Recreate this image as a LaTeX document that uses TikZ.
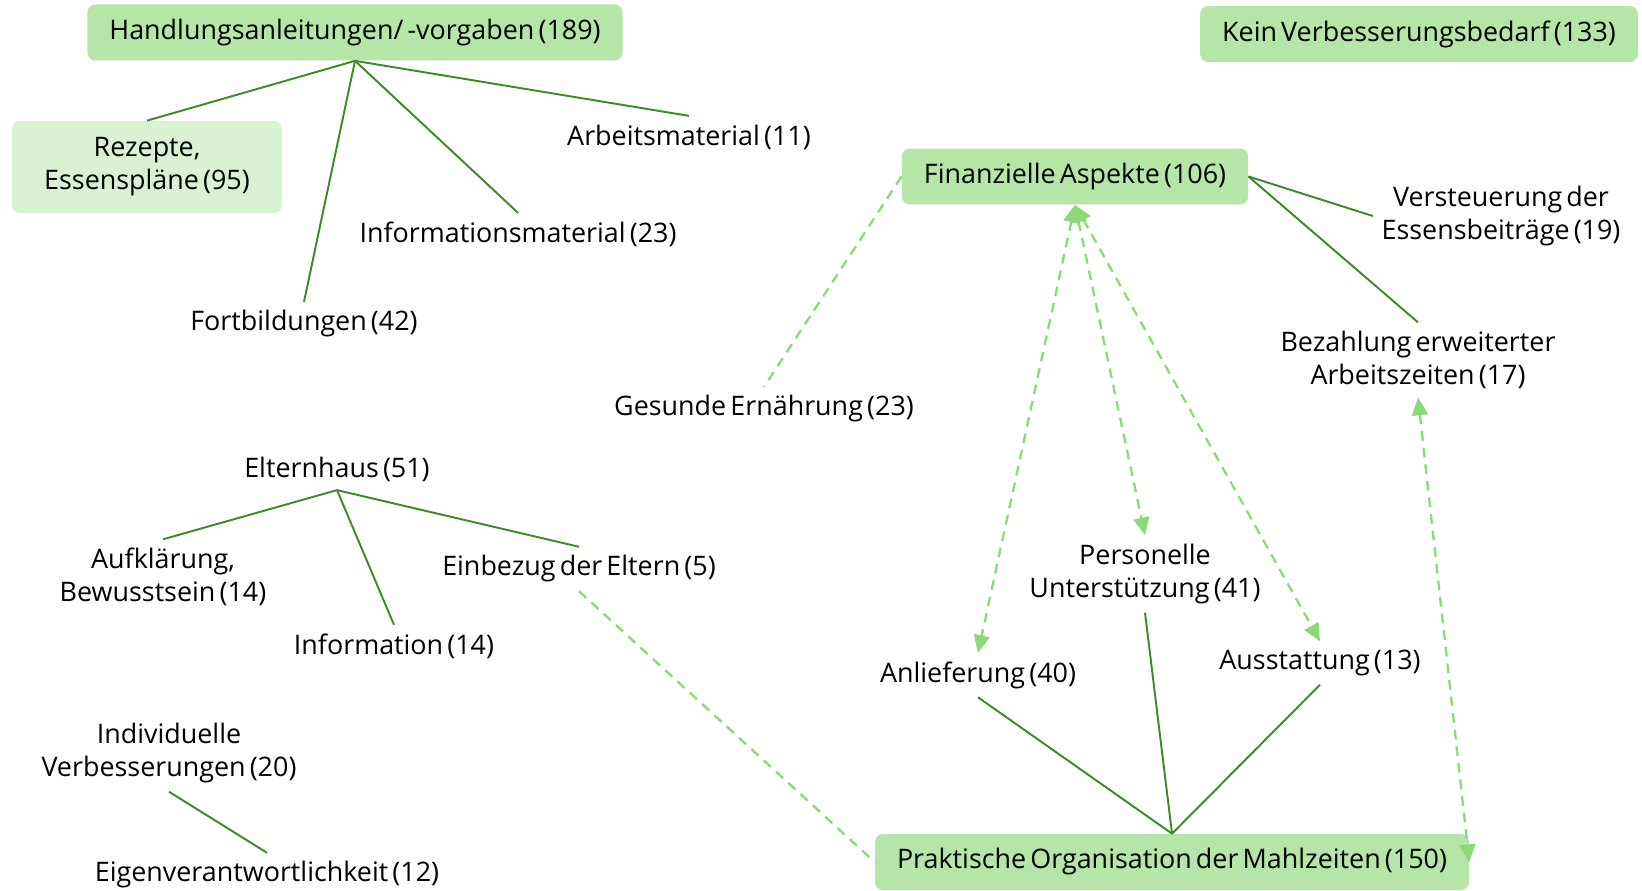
\documentclass[tikz,border=0pt]{standalone}
\usepackage{fontspec}
\setmainfont{Open Sans}[WordSpace=0.6]
\usetikzlibrary{arrows.meta}

\definecolor{boxgreen}{RGB}{181,230,167}
\definecolor{boxlight}{RGB}{217,242,210}
\definecolor{linegreen}{RGB}{62,138,42}
\definecolor{dashgreen}{RGB}{141,216,120}

\tikzset{
  cat/.style={fill=boxgreen, rounded corners=4.5pt, inner xsep=0.44cm, minimum height=1.12cm, align=center},
  sub/.style={inner sep=0pt, outer sep=5pt, align=center},
  tie/.style={draw=linegreen, line width=1.1pt},
  link/.style={draw=dashgreen, line width=1.3pt, dash pattern=on 5.5pt off 4pt},
  tip/.style={{Triangle[length=10pt,width=9pt]}-{Triangle[length=10pt,width=9pt]}}
}

\begin{document}
\begin{tikzpicture}[x=0.02cm,y=-0.02cm,font=\fontsize{15.3}{18.8}\selectfont]
  \useasboundingbox (0,0) rectangle (1642,891);

  % Handlungsanleitungen
  \node[cat] (hand) at (355,32.5) {Handlungsanleitungen/ -vorgaben (189)};
  \node[cat, fill=boxlight, minimum width=5.4cm, minimum height=1.84cm] (rez) at (147,167) {Rezepte,\\Essenspläne (95)};
  \node[sub] (arb) at (689,137) {Arbeitsmaterial (11)};
  \node[sub] (infm) at (518,234) {Informationsmaterial (23)};
  \node[sub] (fort) at (304,324) {Fortbildungen (42)};
  \draw[tie] (hand.south) -- (rez.north);
  \draw[tie] (hand.south) -- (arb.north);
  \draw[tie] (hand.south) -- (infm.north);
  \draw[tie] (hand.south) -- (fort.north);

  \node[cat] (kein) at (1419,34) {Kein Verbesserungsbedarf (133)};

  % Finanzielle Aspekte
  \node[cat] (fin) at (1075,176.5) {Finanzielle Aspekte (106)};
  \node[sub] (vst) at (1501,216) {Versteuerung der\\Essensbeiträge (19)};
  \node[sub] (bez) at (1418,360) {Bezahlung erweiterter\\Arbeitszeiten (17)};
  \node[sub] (ges) at (764,409) {Gesunde Ernährung (23)};
  \draw[tie] (fin.east) -- (vst.west);
  \draw[tie] (fin.east) -- (bez.north);
  \draw[link] (fin.west) -- (ges.north);

  % Elternhaus
  \node[sub] (elt) at (337,469) {Elternhaus (51)};
  \node[sub] (auf) at (163,577) {Aufklärung,\\Bewusstsein (14)};
  \node[sub] (ein) at (579,569) {Einbezug der Eltern (5)};
  \node[sub] (info) at (394,646) {Information (14)};
  \draw[tie] (elt.south) -- (auf.north);
  \draw[tie] (elt.south) -- (ein.north);
  \draw[tie] (elt.south) -- (info.north);

  % Individuelle Verbesserungen
  \node[sub] (ind) at (169,753) {Individuelle\\Verbesserungen (20)};
  \node[sub] (eig) at (267,875) {Eigenverantwortlichkeit (12)};
  \draw[tie] (ind.south) -- (eig.north);

  % Praktische Organisation
  \node[cat] (prak) at (1172,862) {Praktische Organisation der Mahlzeiten (150)};
  \node[sub] (anl) at (978,675) {Anlieferung (40)};
  \node[sub] (pers) at (1145,574) {Personelle\\Unterstützung (41)};
  \node[sub] (aus) at (1320,663) {Ausstattung (13)};
  \draw[tie] (prak.north) -- (anl.south);
  \draw[tie] (prak.north) -- (pers.south);
  \draw[tie] (prak.north) -- (aus.south);
  \draw[link] (ein.south) -- (prak.west);

  % Querverbindungen
  \draw[link, tip] (fin.south) -- (anl.north);
  \draw[link, tip] (fin.south) -- (pers.north);
  \draw[link, tip] (fin.south) -- (aus.north);
  \draw[link, tip] (bez.south) -- (prak.east);
\end{tikzpicture}
\end{document}
